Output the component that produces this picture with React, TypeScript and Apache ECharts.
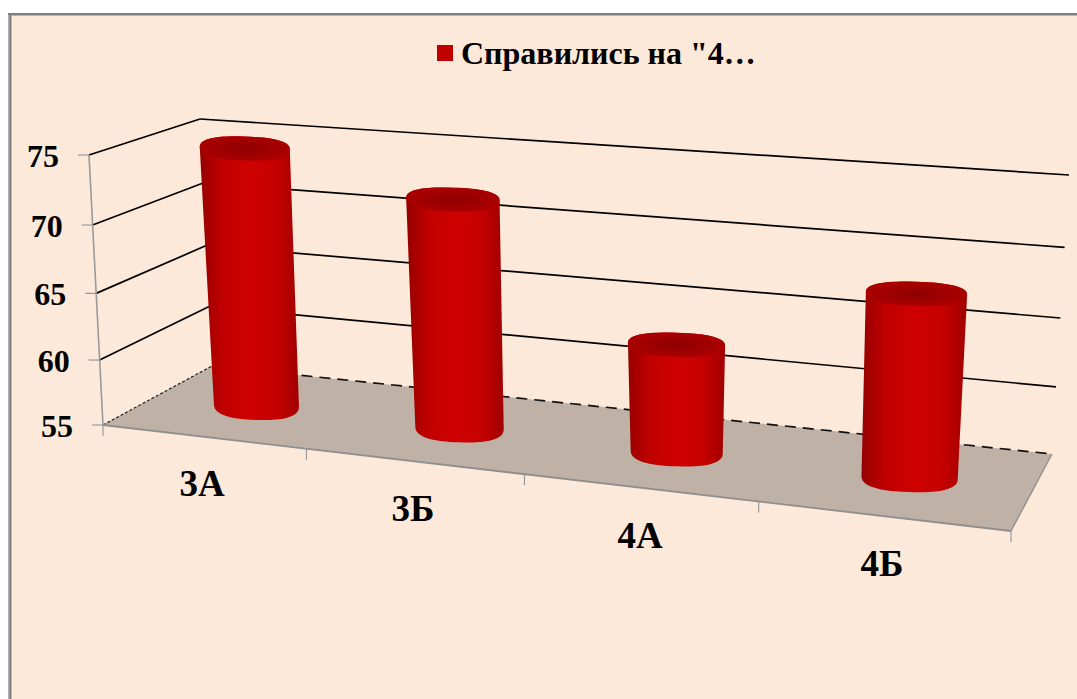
import React, { useEffect, useRef } from "react";
import * as echarts from "echarts";

const categories = ["3А", "3Б", "4А", "4Б"];
const values = [74.6, 72, 62.9, 68];
const tickValues = [55, 60, 65, 70, 75];
const seriesName = 'Справились на "4…';
const categoryLabelPos = [[202, 483], [413, 508], [640, 535], [882, 563]];

const W = 1077, H = 699;
const GRID = { left: 100, top: 100, width: 800, height: 400 };
const FONT = '"Liberation Serif", "Times New Roman", serif';

type P = [number, number];
const floorCorners: P[] = [[103, 425], [1011, 531], [1052, 454], [212, 366]];
const topCorners: P[] = [[89, 155], [1030, 226], [1069, 175], [200, 119]];

function homography(c: P[]) {
  const [[x0, y0], [x1, y1], [x2, y2], [x3, y3]] = c;
  const sx = x0 - x1 + x2 - x3, sy = y0 - y1 + y2 - y3;
  const dx1 = x1 - x2, dx2 = x3 - x2, dy1 = y1 - y2, dy2 = y3 - y2;
  const den = dx1 * dy2 - dx2 * dy1;
  const g = (sx * dy2 - dx2 * sy) / den;
  const h = (dx1 * sy - sx * dy1) / den;
  const a = x1 - x0 + g * x1, b = x3 - x0 + h * x3;
  const d = y1 - y0 + g * y1, e = y3 - y0 + h * y3;
  return (u: number, w: number): P => {
    const q = g * u + h * w + 1;
    return [(a * u + b * w + x0) / q, (d * u + e * w + y0) / q];
  };
}
const floorH = homography(floorCorners);
const topH = homography(topCorners);

function project(u: number, depth: number, v: number): P {
  const f = floorH(u, depth), t = topH(u + 0.04 * u * (1 - u), depth);
  const k = v - 0.05 * v * (1 - v);
  return [f[0] + (t[0] - f[0]) * k, f[1] + (t[1] - f[1]) * k];
}
// grid pixel -> wall-space fractions, so that every mark goes through the axes' scales
const toU = (px: number) => (px - GRID.left) / GRID.width;
const toV = (py: number) => (GRID.top + GRID.height - py) / GRID.height;

function ellipsePts(c: P, rx: number, ry: number, from: number, to: number, n = 40): P[] {
  const pts: P[] = [];
  const sq = (t: number) => Math.sign(t) * Math.pow(Math.abs(t), 0.8);
  for (let i = 0; i <= n; i++) {
    const a = from + ((to - from) * i) / n;
    const dx = sq(Math.cos(a)) * rx;
    pts.push([c[0] + dx, c[1] + sq(Math.sin(a)) * ry + dx * 0.03]);
  }
  return pts;
}

const lineStyle = (stroke: string, lineWidth: number) => ({ stroke, lineWidth, fill: "none" });
const labelStyle = (text: string, x: number, y: number, size: number, align = "center") => ({
  text, x, y, fill: "#000", align, verticalAlign: "middle", textAlign: align, textVerticalAlign: "middle",
  fontFamily: FONT, fontWeight: "bold", fontSize: size,
});

export default function App() {
  const ref = useRef<HTMLDivElement>(null);
  useEffect(() => {
    document.body.style.margin = "0";
    const chart = echarts.init(ref.current!, undefined, { renderer: "svg" });

    const renderFloor = () => {
      const pts = [project(0, 0, 0), project(1, 0, 0), project(1, 1, 0), project(0, 1, 0)];
      return { type: "polygon", shape: { points: pts }, style: { fill: "#bfb1a6" } };
    };

    const renderWall = (_: any, api: any) => {
      const value = api.value(1);
      const v = toV(api.coord([0, value])[1]);
      const a = project(0, 0, v), b = project(0, 1, v), c = project(1, 1, v);
      const children: any[] = [];
      const floor = value === tickValues[0];
      children.push({ type: "polyline", shape: { points: [a, b] }, style: { ...lineStyle(floor ? "#222" : "#000", floor ? 1.2 : 1.7), lineDash: floor ? [3, 2] : undefined } });
      children.push({
        type: "polyline", shape: { points: [b, c] },
        style: { ...lineStyle(floor ? "#111" : "#000", floor ? 1.7 : 1.7), lineDash: floor ? [11, 7] : undefined },
      });
      children.push({ type: "line", shape: { x1: a[0] - 11, y1: a[1], x2: a[0], y2: a[1] }, style: lineStyle("#999", 1.2) });
      children.push({ type: "text", style: labelStyle(String(value), a[0] - 30, a[1] + 1, 32, "right") });
      return { type: "group", children };
    };

    const renderAxes = () => {
      const children: any[] = [
        { type: "polyline", shape: { points: [project(0, 0, 0), project(0, 0, 1)] }, style: lineStyle("#9a9a9a", 1.6) },
        { type: "polyline", shape: { points: [project(0, 0, 0), project(1, 0, 0)] }, style: lineStyle("#8f8f8f", 1.8) },
        { type: "polyline", shape: { points: [project(1, 0, 0), project(1, 1, 0)] }, style: lineStyle("#8f8f8f", 1.4) },
      ];
      categories.concat([""]).forEach((_, i) => {
        const p = project(i / categories.length, 0, 0);
        children.push({ type: "line", shape: { x1: p[0], y1: p[1], x2: p[0], y2: p[1] + 11 }, style: lineStyle("#999", 1.2) });
      });
      return { type: "group", children };
    };

    const renderBar = (_: any, api: any) => {
      const c = api.coord([api.value(0), api.value(1)]);
      const u = toU(c[0]);
      const v = toV(c[1]);
      const du = 0.052;
      const base = project(u, 0.5, 0), top = project(u, 0.5, v);
      const rf = (project(u + du, 0.5, 0)[0] - project(u - du, 0.5, 0)[0]) / 2;
      const rb = 0.6 * rf + 18;
      const rt = rb + 2.5;
      const ryB = 15, ryT = 12;
      const body = [
        ...ellipsePts(top, rt, ryT, Math.PI, 2 * Math.PI),
        ...ellipsePts(base, rb, ryB, 0, Math.PI),
      ];
      return {
        type: "group",
        children: [
          {
            type: "polygon", shape: { points: body },
            style: {
              fill: {
                type: "linear", x: 0, y: 0, x2: 1, y2: 0,
                colorStops: [
                  { offset: 0, color: "#960000" }, { offset: 0.22, color: "#bf0000" },
                  { offset: 0.5, color: "#d00000" }, { offset: 0.78, color: "#c40000" },
                  { offset: 1, color: "#a00000" },
                ],
              },
            },
          },
          {
            type: "polygon", shape: { points: ellipsePts(top, rt, ryT, 0, 2 * Math.PI) },
            style: {
              fill: {
                type: "radial", x: 0.5, y: 0.5, r: 0.5,
                colorStops: [{ offset: 0, color: "#8f0000" }, { offset: 1, color: "#aa0000" }],
              },
            },
          },
        ],
      };
    };

    const renderCategoryLabel = (_: any, api: any) => {
      const i = api.value(0);
      const [x, y] = categoryLabelPos[i];
      return { type: "text", style: labelStyle(categories[i], x, y, 37) };
    };

    const barData = values.map((val, i) => [i, val]);
    chart.setOption({
      animation: false,
      backgroundColor: "#ffffff",
      grid: { ...GRID, containLabel: false },
      xAxis: { type: "category", data: categories, show: false },
      yAxis: { type: "value", min: 55, max: 75, interval: 5, show: false },
      tooltip: { show: false },
      legend: {
        show: true, data: [{ name: seriesName, icon: "rect" }],
        left: 432, top: 32, itemWidth: 16, itemHeight: 16, itemGap: 8,
        formatter: seriesName, selectedMode: false,
        textStyle: { fontFamily: FONT, fontWeight: "bold", fontSize: 32, color: "#000", padding: [0, 0, 0, 3] },
      },
      graphic: [
        { type: "rect", z: -2, silent: true, shape: { x: 8, y: 13, width: W - 8, height: H - 13 }, style: { fill: "#7f7f7f" } },
        { type: "rect", z: -1, silent: true, shape: { x: 8, y: 15, width: 1.5, height: H - 15 }, style: { fill: "#b0b0b0" } },
        { type: "rect", z: -1, silent: true, shape: { x: 11.5, y: 15.5, width: W - 11.5, height: H - 15.5 }, style: { fill: "#fde9d9" } },
      ],
      color: ["#c00000"],
      series: [
        { type: "custom", name: "floor", z: 1, silent: true, renderItem: renderFloor, data: [[0, 55]], encode: { x: 0, y: 1 } },
        { type: "custom", name: "walls", z: 2, silent: true, renderItem: renderWall, data: tickValues.map((t) => [0, t]), encode: { x: 0, y: 1 } },
        { type: "custom", name: "axes", z: 3, silent: true, renderItem: renderAxes, data: [[0, 55]], encode: { x: 0, y: 1 } },
        { type: "custom", name: "labels", z: 3, silent: true, renderItem: renderCategoryLabel, data: barData, encode: { x: 0, y: 1 } },
        { type: "custom", name: seriesName, z: 5, renderItem: renderBar, data: barData, encode: { x: 0, y: 1 }, itemStyle: { color: "#c00000" } },
      ],
    });
    return () => chart.dispose();
  }, []);
  return <div ref={ref} style={{ width: W, height: H }} />;
}
